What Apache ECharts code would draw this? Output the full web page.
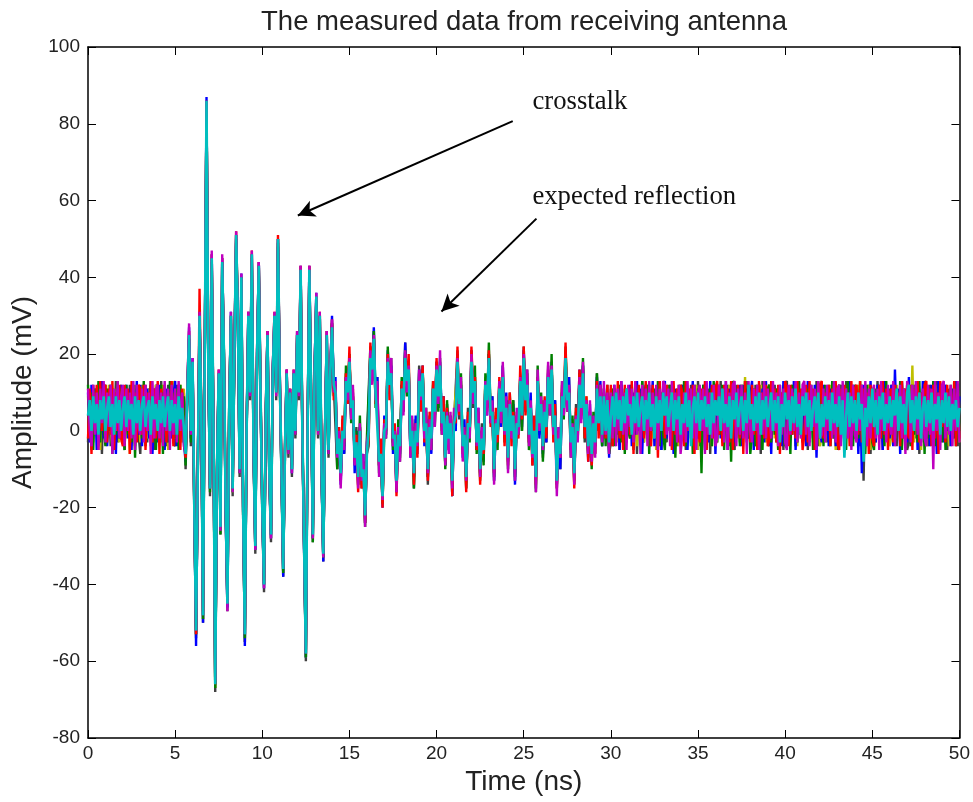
<!DOCTYPE html>
<html>
<head>
<meta charset="utf-8">
<script src="https://cdn.jsdelivr.net/npm/echarts@6/dist/echarts.min.js"></script>
<style>
html,body{margin:0;padding:0;background:#ffffff;}
#chart{width:973px;height:802px;}
</style>
</head>
<body>
<div id="chart"></div>
<script>
// ---------------- data ----------------
const SAMPLE_STEP_NS = 0.1;               // sampling grid of every trace, t = 0 .. 50 ns
const xTickValues = [0, 5, 10, 15, 20, 25, 30, 35, 40, 45, 50];
const yTickValues = [-80, -60, -40, -20, 0, 20, 40, 60, 80, 100];

const blueTrace = [
10,-3,12,1,11,-5,9,2,13,-2, 11,-4,8,12,-1,10,-6,11,0,12, -3,9,12,-2,11,-5,10,1,13,-1, 12,-4,10,0,11,-2,13,-6,9,11, -3,12,0,10,-5,11,2,12,-2,9,
13,-4,11,-1,10,-3,-8,10,27,-2,
19,-20,-56,-10,31,5,-50,20,87,18, -15,46,0,-66,-12,15,-25,45,20,-22, -46,5,31,-15,20,51,28,-10,41,-20, -56,0,31,10,46,-5,-31,20,44,10,
-20,-41,5,26,-10,-28,16,30,10,50, 15,-10,-38,-5,16,-5,10,-11,15,0, 26,10,43,0,-31,-59,0,43,10,-28, 16,36,0,30,-11,-34,0,26,-6,15,
30,11,14,-8,-2,-14,2,-6,14,7, 19,3,10,-11,0,-12,1,-14,-6,-24, -4,-4,20,16,27,8,14,-9,-4,-20, 4,-1,21,11,17,-6,-1,-16,0,-6,
12,5,23,11,16,-7,2,-12,4,-6, 16,9,17,-4,3,-12,4,-6,11,4, 18,6,18,2,9,-9,5,-5,4,-17, 2,0,20,4,12,-7,3,-12,4,0,
21,9,13,-5,6,-11,0,-8,12,4, 20,2,9,-13,2,-3,12,1,17,-2, 10,-7,8,-2,7,-14,4,0,13,1, 21,5,12,-2,10,-8,3,-12,14,-2,
7,-6,8,-3,15,7,18,-2,8,-14, 1,-10,10,4,19,5,14,-5,2,-11, 4,0,16,3,17,0,7,-8,7,-8, 4,-4,14,2,13,-4,10,-2,8,-7,
11,
-3,12,0,10,-5,13,1,11,-2,9, 12,-4,10,-1,13,0,11,-6,9,12, -2,10,1,13,-4,11,-1,12,-5,10, 13,-2,9,0,12,-6,11,1,10,-3,
12,-1,11,-5,10,2,13,-3,9,-2, 11,-4,12,0,10,-3,13,-1,11,-6, 9,12,-2,10,0,13,-5,11,-1,12, -3,10,1,12,-4,12,0,11,-2,9,
13,-5,10,-1,12,0,11,-3,13,-2, 10,-6,12,1,11,-2,9,-4,13,0, 12,-3,10,-1,13,-5,11,0,9,-2, 11,-4,13,1,10,-2,12,-7,11,0,
-3,12,-1,10,-4,11,1,13,-4,9, 12,-2,11,-5,10,0,13,-3,12,-1, 9,-6,11,-11,12,-4,10,-2,13,0, 11,-3,12,-1,10,-5,13,0,9,-2,
12,-4,16,1,11,-6,13,-1,10,-3, 14,-2,11,0,12,-5,10,-3,13,1, -2,11,-4,12,0,10,-6,13,-1,11, -3,12,0,10,-4,11,-2,13,1,9
];

const greenTrace = [
12,-2,10,-5,11,0,13,-3,9,1, -4,11,0,12,-6,10,-1,13,-2,11, 1,-5,12,-1,10,-3,12,-7,11,0, 9,-2,13,-4,10,1,12,-3,11,-5, 10,-1,12,-6,11,0,-3,13,1,10,
-2,11,-5,12,0,9,-9,11,24,-3,
17,-21,-53,-9,28,5,-49,21,85,20, -16,44,0,-67,-10,14,-27,44,21,-20, -45,6,29,-16,20,50,30,-11,40,-21, -54,-1,30,10,45,-6,-30,19,43,9,
-21,-40,4,25,-11,-27,15,29,10,49, 14,-11,-37,-6,15,-6,11,-10,14,-1, 25,9,42,-1,-30,-59,1,42,9,-29, 15,34,-1,30,-11,-33,0,24,-6,14,
28,9,12,-10,1,-11,1,-4,17,8, 20,2,9,-7,0,-14,4,-13,-8,-25, -2,-2,22,15,26,6,10,-11,-5,-19, 1,-2,22,10,15,-5,1,-14,3,-7,
14,8,21,9,17,-6,3,-15,0,-4, 15,6,16,0,6,-12,2,-5,13,1, 16,5,19,-1,6,-10,8,-2,4,-14, 5,3,18,5,15,-5,1,-15,2,-3,
19,8,17,-6,2,-12,-1,-9,15,6, 23,4,6,-12,5,-5,13,4,14,-3, 8,-10,7,-1,8,-12,5,1,14,0, 19,6,15,-5,7,-6,2,-15,17,1,
10,-8,6,-1,14,4,20,-1,5,-13, -1,-6,13,3,21,7,10,-7,4,-13, 5,-1,15,6,19,-2,8,-6,4,-10, 5,-4,15,0,9,-4,11,-4,9,-6,
-3,
11,-4,10,-1,12,-3,9,-6,11,0, -2,12,-5,10,1,11,-3,13,-1,10, 12,-6,9,0,11,-2,13,-4,10,-1, -5,11,1,12,-3,10,-7,9,0,12,
-1,13,-4,11,0,10,-6,12,-2,11, 10,-11,12,-5,9,1,11,-4,13,0, -3,10,-1,12,-5,11,0,10,-8,13, 11,-2,9,-4,12,1,13,-3,10,-6,
-1,11,-4,12,0,10,-5,13,-2,11, 12,-3,10,-1,11,-5,12,0,9,-4, -2,11,-6,12,1,10,-3,13,-1,11, 9,-1,11,-3,12,-5,10,0,13,-2,
11,-4,12,0,10,-4,13,-2,11,-1, -3,12,0,11,-5,13,-1,10,-4,12, 10,-2,13,-1,11,-6,12,0,10,-3, -5,11,1,12,-2,10,-4,13,0,11,
-1,12,-3,10,0,13,-5,11,-2,12, 10,-4,12,-1,11,-3,13,0,10,-6, 12,-2,11,0,13,-4,10,-1,12,-3, 11,-5,10,1,12,-2,13,-4,11,0
];

const redTrace = [
-2,11,-6,10,1,12,-4,13,0,10, 12,-3,11,-1,13,-5,10,0,12,-2, -4,12,0,11,-6,13,1,10,-3,12, 11,-1,12,-5,10,0,13,-3,11,-2, 13,-6,11,1,12,-3,10,-1,13,-4,
10,0,12,-5,11,-2,-7,12,26,1,
18,-19,-53,-10,37,6,-47,20,86,21, -14,46,1,-66,-9,16,-24,45,20,-19, -44,6,30,-14,21,52,31,-9,40,-19, -52,1,31,11,47,-4,-29,21,44,11,
-19,-39,6,26,-9,-26,16,31,11,51, 16,-9,-35,-4,16,-4,11,-9,16,1, 26,11,43,1,-29,-57,1,43,11,-26, 16,35,1,31,-9,-31,1,26,-4,16,
29,8,11,-6,1,-13,4,-3,15,7, 22,4,11,-8,-1,-16,0,-15,-9,-24, -5,-3,23,14,24,7,12,-9,-2,-20, 3,1,20,8,16,-4,2,-17,-1,-5,
13,5,20,13,20,-6,1,-14,2,-7, 13,5,17,-3,3,-13,5,-2,13,4, 19,8,17,0,9,-8,6,-5,2,-17, 3,2,22,4,11,-6,0,-16,5,-1,
22,10,14,-5,5,-14,0,-6,12,5, 21,1,5,-11,6,-3,14,5,15,-4, 6,-9,10,-4,5,-10,4,-2,17,3, 22,4,13,-3,6,-9,4,-14,14,2,
8,-4,9,-2,16,6,16,-3,7,-15, 0,-7,12,6,23,5,11,-5,1,-15, 6,-1,16,4,15,-2,9,-8,5,-9, 3,-6,13,-2,12,-1,10,-2,12,-5,
12,
-4,11,0,13,-2,10,-5,12,1,11, -1,13,-6,10,0,12,-3,11,-2,13, 0,11,-4,12,-1,10,-7,13,0,11, -2,12,1,10,-5,13,-1,11,-3,12,
10,-4,13,0,11,-2,12,-6,10,1, -3,11,0,13,-5,10,-1,12,-2,11, 13,-1,10,-4,12,0,11,-3,13,-5, 10,0,12,-2,11,-6,13,1,10,-3,
12,-1,11,-5,13,0,10,-2,12,-4, -2,13,0,11,-3,12,-6,10,1,13, 11,-4,12,-1,10,-2,13,0,11,-5, -1,12,-3,13,0,11,-5,10,-2,12,
13,-2,10,0,12,-4,11,-1,13,-3, -5,11,1,12,-2,10,-4,13,0,11, 12,-1,13,-3,11,0,10,-6,12,-2, -4,10,0,12,-2,13,-1,11,-5,10,
11,-3,12,1,10,-4,13,-2,11,0, -2,12,-5,11,0,13,-3,10,-1,12, 13,0,11,-4,12,-2,10,-6,13,1, 10,-3,12,0,11,-1,13,-4,10,-2
];

const magentaTrace = [
11,0,-4,12,-1,10,-5,11,2,13, -3,10,1,12,-6,11,0,13,-2,9, 12,-4,11,0,10,-2,13,-5,12,1, -1,11,-3,12,0,10,-6,13,-2,11, 12,-2,10,-4,13,0,11,-5,12,-1,
11,-3,13,0,10,-4,-5,11,28,-1,
19,-21,-52,-11,31,4,-48,21,86,19, -15,47,-1,-65,-10,16,-26,46,19,-21, -47,4,31,-16,21,52,29,-11,41,-21, -53,-1,31,9,47,-6,-31,21,44,9,
-21,-41,4,26,-11,-28,16,31,9,50, 16,-11,-36,-6,16,-6,11,-11,16,-1, 26,9,43,-1,-31,-58,1,43,9,-28, 16,36,-1,31,-11,-33,1,26,-6,16,
29,10,13,-7,0,-15,0,-5,14,8, 19,3,12,-9,-3,-15,2,-13,-6,-25, -3,0,21,12,25,8,13,-12,-6,-18, 2,-2,19,12,19,-4,0,-16,1,-8,
11,4,21,10,17,-7,4,-11,2,-4, 16,8,15,-2,6,-11,3,-5,11,1, 17,7,21,-1,5,-9,5,-6,5,-15, 6,4,19,5,14,-8,1,-13,2,-2,
20,7,13,-4,6,-12,1,-5,13,4, 19,2,8,-14,3,-1,13,2,18,-1, 9,-11,8,-2,4,-13,6,-1,14,4, 20,8,16,-4,8,-7,0,-16,16,0,
9,-5,8,1,18,4,17,-1,4,-17, 1,-7,13,4,19,5,12,-7,2,-14, 4,-3,14,2,18,1,8,-6,8,-8, 4,-7,12,2,12,-3,13,-1,10,-6,
10,
-2,12,-4,11,0,13,-1,10,-5,12, 1,11,-3,13,-1,10,-6,12,0,11, -4,13,0,10,-2,12,-5,11,1,13, 12,-1,11,-4,13,0,10,-3,12,-6,
-1,10,-3,13,0,11,-2,12,-5,10, 12,0,11,-6,13,-1,10,-2,12,-4, -2,12,1,11,-3,13,-5,10,0,12, 13,-4,11,-1,12,-2,10,-6,13,0,
-3,11,0,12,-5,10,-1,13,-2,11, 11,-2,13,0,10,-4,12,-1,11,-3, -5,12,-1,11,0,13,-3,10,-2,12, 13,-1,10,-4,12,1,11,-5,13,-2,
-1,11,-3,12,0,10,-2,13,-3,11, 12,-4,13,0,11,-2,10,-5,12,-1, -3,10,0,12,-1,13,-4,11,-2,10, 12,-2,11,-5,13,0,10,-3,12,1,
-1,13,-4,10,0,12,-2,11,-6,13, 11,-3,12,0,13,-1,10,-4,11,-2, -4,12,-1,11,-10,13,0,10,-5,12, 13,-2,10,-1,12,-4,11,0,13,-3
];

const oliveTrace = [
9,-1,11,-3,10,2,12,-5,9,0, 10,-2,12,0,-4,11,1,10,-3,12, 0,11,-2,9,-6,10,1,12,-1,10, -3,12,0,10,-2,11,-4,9,1,12, -1,10,-3,12,0,9,-5,11,-2,13,
-2,10,-1,12,-3,11,-6,9,24,-1,
18,-20,-53,-10,30,5,-49,19,86,20, -15,45,0,-67,-11,15,-25,44,19,-21, -45,5,30,-16,20,51,30,-10,40,-21, -55,0,30,10,46,-5,-31,20,43,10,
-20,-40,5,25,-10,-28,15,30,10,50, 15,-10,-37,-5,15,-6,10,-10,15,0, 25,10,42,0,-30,-59,0,42,10,-27, 15,35,0,30,-10,-33,0,25,-5,15,
27,11,12,-7,-2,-12,1,-2,15,9, 19,6,9,-9,-3,-13,1,-14,-10,-22, -5,-1,19,16,26,9,10,-9,-5,-19, 0,-1,19,11,15,-3,1,-13,0,-4,
12,8,19,12,18,-4,1,-12,0,-5, 13,8,17,-1,2,-11,1,-4,12,4, 18,9,17,1,6,-9,5,-2,2,-14, 3,3,18,7,13,-5,0,-12,2,-1,
18,9,14,-5,2,-10,-1,-6,14,8, 20,2,5,-11,2,-2,13,4,14,0, 6,-7,9,-1,5,-10,2,-1,14,3, 20,8,13,-1,8,-7,0,-13,13,0,
8,-4,7,0,14,6,17,-1,4,-14, -2,-7,10,4,20,8,10,-4,3,-12, 4,-2,12,6,16,0,9,-4,5,-7, 4,-4,12,2,10,-3,9,-1,8,-4,
-4,
11,-1,10,-3,12,0,9,-2,11,1, -2,12,0,10,-4,11,-1,9,-3,12, 10,0,11,-2,9,-5,12,1,10,-1, -3,11,0,12,-2,10,-1,11,-4,9,
12,-2,10,0,11,-3,9,-1,12,-5, 10,1,11,-2,12,0,9,-4,10,-1, -3,12,0,10,-2,11,-1,12,-5,10, 11,-1,9,-3,12,0,14,-2,11,0,
-2,10,-4,11,1,12,-1,9,-3,11, 12,0,10,-2,11,-5,9,1,12,-1, -3,11,0,12,-1,10,-4,11,-2,9, 10,-2,12,0,11,-3,9,-1,12,-4,
-1,11,-3,10,0,12,-2,9,-5,11, 12,-1,10,-4,11,0,12,-3,10,-1, -2,12,0,11,-3,10,-1,12,-5,9, 11,-3,10,0,12,-2,9,-1,11,-4,
-1,10,-2,12,0,11,-4,9,-3,12, 10,0,17,-3,12,-1,9,-5,10,-2, -4,11,-1,10,0,12,-3,11,-2,9, 12,-1,9,-4,11,0,10,-2,12,-3
];

const grayTrace = [
-3,10,-5,12,0,11,-2,9,-6,11, 12,-1,10,-4,11,1,13,-3,10,-2, 11,-5,10,0,12,-2,9,-4,11,-1, -6,10,1,12,-3,11,0,10,-5,12, 11,-2,13,-1,10,-4,12,0,11,-3,
-4,12,-2,11,-1,10,-10,9,23,-4,
16,-22,-54,-12,29,3,-50,18,85,18, -17,43,-2,-68,-12,13,-27,42,18,-22, -47,3,28,-17,18,49,28,-12,38,-22, -55,-2,28,8,44,-7,-32,18,41,8,
-22,-42,3,23,-12,-29,13,28,8,48, 13,-12,-38,-7,13,-7,8,-12,13,-2, 23,8,40,-2,-32,-60,-2,40,8,-29, 13,33,-2,28,-12,-34,-2,23,-7,13,
28,12,12,-10,-1,-13,3,-6,13,9, 20,3,9,-7,1,-14,1,-15,-8,-24, -6,-4,21,13,25,7,14,-8,-4,-18, 3,0,18,10,19,-3,1,-16,-1,-8,
12,6,23,10,16,-6,1,-15,3,-5, 17,9,16,-2,5,-14,3,-3,11,2, 18,6,17,1,9,-9,7,-2,3,-17, 2,2,21,3,12,-4,1,-15,6,0,
21,6,14,-5,2,-13,2,-7,13,8, 20,4,9,-13,4,-2,11,1,17,-2, 8,-8,10,0,8,-13,3,-1,13,0, 22,7,16,-3,6,-9,2,-16,14,-1,
8,-7,7,-3,17,7,17,-1,8,-15, 0,-10,10,6,22,6,14,-4,3,-14, 7,-2,15,5,17,-3,7,-7,5,-8, 3,-6,15,0,9,-4,11,-1,12,-6,
9,
-4,11,-1,10,-5,12,0,9,-3,11, 1,10,-2,12,-6,11,0,13,-3,10, -1,12,-4,11,0,10,-2,13,-5,11, 10,-3,12,0,11,-1,9,-4,12,0,
-2,11,-5,10,1,12,-3,11,-1,13, -4,10,0,12,-2,11,-6,10,1,12, 11,-1,13,-3,10,0,12,-4,11,-2, -5,12,1,10,-3,11,0,13,-2,10,
11,-3,12,-1,10,-6,13,0,11,-2, -4,10,1,12,-3,11,-1,10,-5,12, 13,-2,10,0,11,-4,12,-1,10,-3, -1,11,-5,12,0,10,-2,13,-4,11,
10,-3,11,-3,12,0,10,-2,11,-5, 12,0,10,-3,13,-1,11,-4,10,-2, -1,11,-4,12,-13,10,-3,12,-6,11, 10,-2,13,0,11,-5,12,-1,10,-3,
12,-1,11,-4,10,0,13,-2,11,-5, -3,10,0,12,-2,11,-6,10,1,13, 11,-4,12,-1,10,-3,13,0,11,-2, -2,12,-5,11,0,10,-1,12,-4,10
];

const cyanTrace = [
4,8,0,9,2,7,-1,8,3,9, 0,6,9,1,7,-1,9,2,8,0, 6,9,1,8,3,7,-1,9,2,8, 0,7,9,1,6,8,-1,9,3,7, 0,8,2,9,1,6,9,0,8,2,
7,-1,9,3,6,1,-6,10,25,0,
18,-20,-52,-10,30,5,-48,20,86,20, -15,45,0,-66,-10,15,-25,44,20,-20, -45,5,30,-15,20,51,30,-10,40,-20, -53,0,30,10,46,-5,-30,20,43,10,
-20,-40,5,25,-10,-27,15,30,10,50, 15,-10,-36,-5,15,-5,10,-10,15,0, 25,10,42,0,-30,-58,0,42,10,-27, 15,35,0,30,-10,-32,0,25,-5,15,
27,12,10,-6,-2,-11,0,-2,13,10, 18,6,8,-7,-3,-12,0,-12,-10,-22, -6,0,19,16,24,10,10,-8,-6,-17, 0,1,18,12,15,-2,-1,-13,-1,-4,
11,8,19,13,16,-4,0,-11,0,-3, 13,9,15,0,2,-10,1,-2,11,5, 16,9,17,2,5,-7,4,-2,2,-13, 2,4,18,7,11,-4,-1,-12,2,1,
18,10,13,-3,2,-10,-2,-5,12,8, 19,4,5,-10,2,-1,11,5,14,0, 6,-7,7,0,4,-10,2,1,13,4, 19,8,12,-1,6,-6,0,-12,13,2,
7,-4,5,1,14,7,16,1,4,-13, -2,-6,9,6,19,8,10,-3,1,-11, 3,0,12,6,15,1,7,-4,4,-6, 2,-3,11,2,9,-1,9,0,8,-3,
4,
9,1,10,3,8,0,9,2,11,4, 7,-1,9,2,10,1,6,9,0,8, 3,10,1,7,-2,9,2,8,0,10, 4,9,1,6,10,0,8,3,9,-1,
7,2,10,1,8,-4,6,9,2,10, 0,8,3,9,1,7,-1,10,2,8, 4,9,0,11,2,7,1,9,-2,8, 3,10,1,6,9,0,8,2,12,3,
7,0,9,2,10,-1,8,3,9,1, 6,10,0,8,2,9,-3,7,1,10, 3,8,0,9,2,11,1,7,-1,9, 4,10,1,8,0,6,9,2,10,-2,
7,1,9,3,8,0,10,2,7,1, 9,-1,8,-7,4,10,1,9,2,8, 0,10,3,7,-8,6,1,9,2,11, 1,8,-1,9,3,10,0,7,2,9,
1,8,4,11,0,9,2,7,-1,10, 12,2,8,0,9,3,10,-2,6,9, 1,8,2,10,0,7,3,9,-1,8, 2,10,1,9,0,7,3,8,1,6
];

// traces in plotting order (last one is drawn on top)
const traceNames  = ['trace 1', 'trace 2', 'trace 3', 'trace 4', 'trace 5', 'trace 6', 'trace 7'];
const traceValues = [grayTrace, oliveTrace, blueTrace, greenTrace, redTrace, magentaTrace, cyanTrace];

// annotations: [time ns, amplitude mV]
const annotationTexts  = ['crosstalk', 'expected reflection'];
const annotationAnchor = [[25.5, 85.7], [25.5, 60.8]];
const arrowFrom = [[24.37, 80.7], [25.73, 55.3]];
const arrowTo   = [[12.04, 56.1], [20.28, 31.1]];

// ---------------- styling ----------------
const traceColors = ['#404040', '#bfbf00', '#0000ff', '#008000', '#ff0000', '#bf00bf', '#00bfbf'];
const traceWidths = [2.4, 2.4, 2.4, 2.4, 2.4, 2.4, 2.6];
const SANS = '"Liberation Sans", Arial, sans-serif';
const SERIF = '"Liberation Serif", "Times New Roman", serif';

const chart = echarts.init(document.getElementById('chart'), null, {renderer: 'canvas'});

function toPairs(values) {
  return values.map((v, i) => [Math.round(i * SAMPLE_STEP_NS * 1000) / 1000, v]);
}

const series = traceValues.map((vals, k) => ({
  name: traceNames[k],
  type: 'line',
  data: toPairs(vals),
  showSymbol: false,
  symbol: 'none',
  silent: true,
  animation: false,
  clip: true,
  z: 2 + k,
  lineStyle: {color: traceColors[k], width: traceWidths[k]},
  itemStyle: {color: traceColors[k]}
}));

// arrows drawn in data coordinates on the top-most trace
series[series.length - 1].markLine = {
  silent: true,
  animation: false,
  symbol: ['none', 'arrow'],
  symbolSize: [13, 17],
  label: {show: false},
  lineStyle: {color: '#000000', width: 2, type: 'solid'},
  data: arrowFrom.map((f, i) => [{coord: f}, {coord: arrowTo[i]}])
};

const axisCommon = {
  axisLine: {show: true, onZero: false, lineStyle: {color: '#000000', width: 1.5}},
  axisTick: {show: true, inside: true, length: 8, lineStyle: {color: '#000000', width: 1}},
  splitLine: {show: false}
};

const option = {
  backgroundColor: '#ffffff',
  animation: false,
  title: {
    text: 'The measured data from receiving antenna',
    left: 519,
    top: 3,
    textAlign: 'center',
    textStyle: {fontFamily: SANS, fontSize: 27.5, fontWeight: 'normal', color: '#222222'}
  },
  grid: {left: 88, right: 13, top: 47, bottom: 64, containLabel: false},
  xAxis: [
    Object.assign({
      type: 'value', position: 'bottom',
      min: xTickValues[0], max: xTickValues[xTickValues.length - 1],
      interval: xTickValues[1] - xTickValues[0],
      name: 'Time (ns)', nameLocation: 'middle', nameGap: 24,
      nameTextStyle: {fontFamily: SANS, fontSize: 28, color: '#222222'},
      axisLabel: {fontFamily: SANS, fontSize: 19, color: '#222222', margin: 6}
    }, axisCommon),
    Object.assign({
      type: 'value', position: 'top',
      min: xTickValues[0], max: xTickValues[xTickValues.length - 1],
      interval: xTickValues[1] - xTickValues[0],
      axisLabel: {show: false}
    }, axisCommon)
  ],
  yAxis: [
    Object.assign({
      type: 'value', position: 'left',
      min: yTickValues[0], max: yTickValues[yTickValues.length - 1],
      interval: yTickValues[1] - yTickValues[0],
      name: 'Amplitude (mV)', nameLocation: 'middle', nameGap: 47,
      nameTextStyle: {fontFamily: SANS, fontSize: 28, color: '#222222'},
      axisLabel: {fontFamily: SANS, fontSize: 19, color: '#222222', margin: 8}
    }, axisCommon),
    Object.assign({
      type: 'value', position: 'right',
      min: yTickValues[0], max: yTickValues[yTickValues.length - 1],
      interval: yTickValues[1] - yTickValues[0],
      axisLabel: {show: false}
    }, axisCommon)
  ],
  series: series
};

chart.setOption(option);

// annotation texts placed through the grid's coordinate system
const textGraphics = annotationTexts.map((txt, i) => {
  const p = chart.convertToPixel({gridIndex: 0}, annotationAnchor[i]);
  return {
    type: 'text',
    silent: true,
    z: 100,
    style: {
      text: txt,
      x: p[0], y: p[1],
      font: '26.7px ' + SERIF,
      fill: '#111111',
      align: 'left', verticalAlign: 'middle',
      textAlign: 'left', textVerticalAlign: 'middle'
    }
  };
});
chart.setOption({graphic: textGraphics});
</script>
</body>
</html>
